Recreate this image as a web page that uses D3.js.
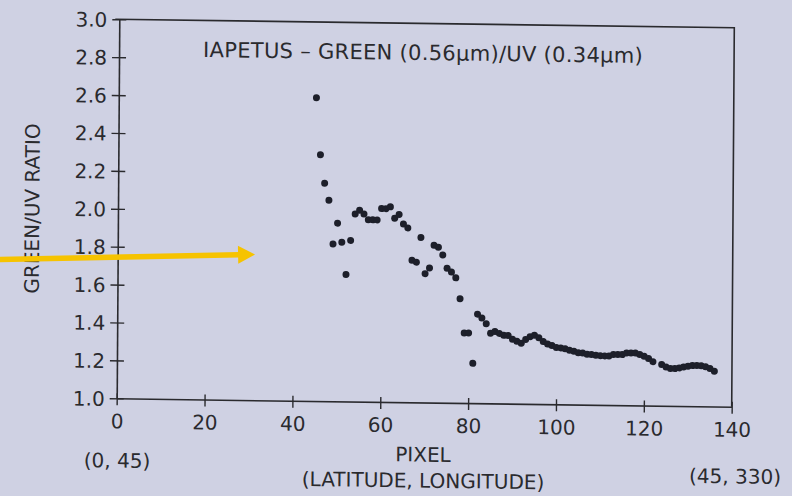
<!DOCTYPE html>
<html>
<head>
<meta charset="utf-8">
<script src="https://cdn.jsdelivr.net/npm/d3@7"></script>
<style>
  html, body { margin: 0; padding: 0; background: #cfd1e3; }
  svg { display: block; }
  text { font-family: "DejaVu Sans", sans-serif; fill: #2a2a2e; }
</style>
</head>
<body>
<svg id="chart" width="792" height="496"></svg>
<script>
// ---- data ----
const pixels = [45,46,47,48,49,50,51,52,53,54,55,56,57,58,59,60,61,62,63,64,65,66,67,68,69,70,
  71,72,73,74,75,76,77,78,79,80,81,82,83,84,85,86,87,88,89,90,91,92,93,94,95,96,97,98,99,100,
  101,102,103,104,105,106,107,108,109,110,111,112,113,114,115,116,117,118,119,120,121,122,
  124,125,126,127,128,129,130,131,132,133,134,135,136];
const ratios = [2.60,2.30,2.15,2.06,1.83,1.94,1.84,1.67,1.85,1.99,2.01,1.99,1.96,1.96,1.96,2.02,2.02,2.03,1.97,1.99,
  1.94,1.92,1.75,1.74,1.87,1.68,1.71,1.83,1.82,1.78,1.71,1.69,1.66,1.55,1.37,1.37,1.21,1.47,1.45,1.42,
  1.37,1.38,1.37,1.36,1.36,1.34,1.33,1.32,1.34,1.355,1.363,1.35,1.33,1.317,1.31,1.30,
  1.298,1.294,1.286,1.281,1.274,1.273,1.266,1.265,1.262,1.26,1.259,1.259,1.267,1.267,1.267,1.276,1.276,1.276,1.269,1.26,1.248,1.232,
  1.218,1.205,1.197,1.197,1.201,1.206,1.21,1.214,1.215,1.214,1.209,1.20,1.186];
const xTicks = [0,20,40,60,80,100,120,140];
const yTicks = [1.0,1.2,1.4,1.6,1.8,2.0,2.2,2.4,2.6,2.8,3.0];
const titleText = "IAPETUS \u2013 GREEN (0.56\u03bcm)/UV (0.34\u03bcm)";
const yLabel = "GREEN/UV RATIO";
const xLabel1 = "PIXEL";
const xLabel2 = "(LATITUDE, LONGITUDE)";
const startLabel = "(0, 45)";
const endLabel = "(45, 330)";
// annotation arrow in data units [pixel, ratio]
const arrowFrom = [-26.6, 1.733];
const arrowTo = [31.5, 1.759];

// ---- layout ----
const svg = d3.select("#chart");
const X0 = 116.7, X1 = 731.7, Y0 = 398.3, Y1 = 19.3;
const x = d3.scaleLinear().domain([0, 140]).range([X0, X1]);
const y = d3.scaleLinear().domain([1, 3]).range([Y0, Y1]);
const ink = "#2a2a2e";

svg.append("rect").attr("width", 792).attr("height", 496).attr("fill", "#cfd1e3");

// slight tilt of the photographed slide
const g = svg.append("g").attr("transform", "matrix(1,0.01366,-0.00686,1,2.73,-1.594)");

// frame (top and right)
g.append("path")
  .attr("d", `M${X0 - 4},${Y1}H${X1}V${Y0}`)
  .attr("fill", "none").attr("stroke", ink).attr("stroke-width", 1.6);

// x axis
const xAxis = g.append("g").attr("transform", `translate(0,${Y0})`)
  .call(d3.axisBottom(x).tickValues(xTicks).tickFormat(d3.format("d")).tickSizeOuter(0));
xAxis.select(".domain").attr("stroke", ink).attr("stroke-width", 1.6);
xAxis.selectAll(".tick line").attr("y1", -5).attr("y2", 7).attr("stroke", ink).attr("stroke-width", 1.4);
xAxis.selectAll(".tick text").attr("y", 30).attr("dy", 0)
  .style("font-size", "20px").style("fill", ink).attr("fill", ink);

// y axis
const yAxis = g.append("g").attr("transform", `translate(${X0},0)`)
  .call(d3.axisLeft(y).tickValues(yTicks).tickFormat(d3.format(".1f")).tickSizeOuter(0));
yAxis.select(".domain").attr("stroke", ink).attr("stroke-width", 1.6);
yAxis.selectAll(".tick line").attr("x1", -7).attr("x2", 7).attr("stroke", ink).attr("stroke-width", 1.4);
yAxis.selectAll(".tick text").attr("x", -12).attr("dy", "0.36em")
  .style("font-size", "20px").style("fill", ink).attr("fill", ink);

// points
g.append("g").selectAll("circle")
  .data(pixels.map((p, i) => [p, ratios[i]]))
  .join("circle")
  .attr("cx", d => x(d[0]))
  .attr("cy", d => y(d[1]))
  .attr("r", 3.5)
  .attr("fill", "#1d1f2a");

// texts
g.append("text").attr("x", 420.7).attr("y", 55.8).attr("text-anchor", "middle")
  .style("font-size", "21px").style("letter-spacing", "0.3px").text(titleText);
g.append("text").attr("transform", "translate(31,209.7) rotate(-90)")
  .attr("text-anchor", "middle").attr("dominant-baseline", "central")
  .style("font-size", "20px").text(yLabel);
g.append("text").attr("x", 423.4).attr("y", 457.4).attr("text-anchor", "middle")
  .style("font-size", "20px").text(xLabel1);
g.append("text").attr("x", 423.6).attr("y", 483.4).attr("text-anchor", "middle")
  .style("font-size", "20px").text(xLabel2);
g.append("text").attr("x", x(0) + 0.8).attr("y", 467.6).attr("text-anchor", "middle")
  .style("font-size", "20px").text(startLabel);
g.append("text").attr("x", 735.5).attr("y", 475).attr("text-anchor", "middle")
  .style("font-size", "20px").text(endLabel);

// yellow arrow annotation
const ax0 = x(arrowFrom[0]), ay0 = y(arrowFrom[1]);
const ax1 = x(arrowTo[0]), ay1 = y(arrowTo[1]);
const ang = Math.atan2(ay1 - ay0, ax1 - ax0);
const headLen = 17, headHalf = 9;
const bx = ax1 - headLen * Math.cos(ang), by = ay1 - headLen * Math.sin(ang);
svg.append("line")
  .attr("x1", ax0).attr("y1", ay0).attr("x2", bx + 1).attr("y2", by)
  .attr("stroke", "#f6c300").attr("stroke-width", 5.5);
svg.append("path")
  .attr("d", `M${ax1},${ay1}L${bx - headHalf * Math.sin(ang)},${by + headHalf * Math.cos(ang)}L${bx + headHalf * Math.sin(ang)},${by - headHalf * Math.cos(ang)}Z`)
  .attr("fill", "#f6c300");
</script>
</body>
</html>
